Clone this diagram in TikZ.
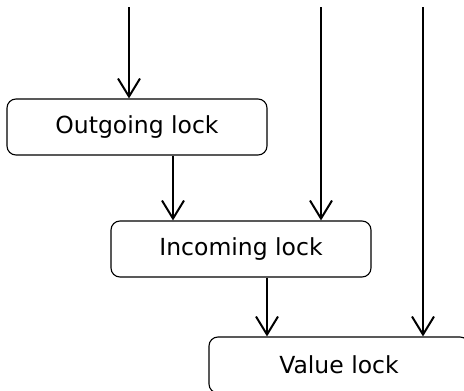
\documentclass[tikz,border=0pt]{standalone}
\usepackage{fontspec}
\setmainfont{DejaVu Sans}
\usetikzlibrary{arrows.meta}
\tikzset{
  lockbox/.style={draw, line width=1.1pt, rounded corners=9pt,
    minimum width=260pt, minimum height=56pt, inner sep=0pt,
    font=\fontsize{23.5}{28}\selectfont},
  flow/.style={line width=2pt, -{Straight Barb[length=18pt,width=22pt,line width=2pt]}}
}
\begin{document}
\begin{tikzpicture}[x=1pt, y=-1pt]
  \useasboundingbox (0,0) rectangle (464,391);
  \clip (0,0) rectangle (464,391);
  \node[lockbox] (out) at (137,127) {Outgoing lock};
  \node[lockbox] (inc) at (241,249) {Incoming lock};
  \node[lockbox] (val) at (339,365) {Value lock};
  \coordinate (t1) at (129,7);
  \coordinate (t2) at (321,7);
  \coordinate (t3) at (423,7);
  \draw[flow] (t1) -- (t1 |- out.north);
  \draw[flow] ([xshift=36pt]out.south) -- ([xshift=36pt]out.south |- inc.north);
  \draw[flow] (t2) -- (t2 |- inc.north);
  \draw[flow] ([xshift=26pt]inc.south) -- ([xshift=26pt]inc.south |- val.north);
  \draw[flow] (t3) -- (t3 |- val.north);
\end{tikzpicture}
\end{document}
